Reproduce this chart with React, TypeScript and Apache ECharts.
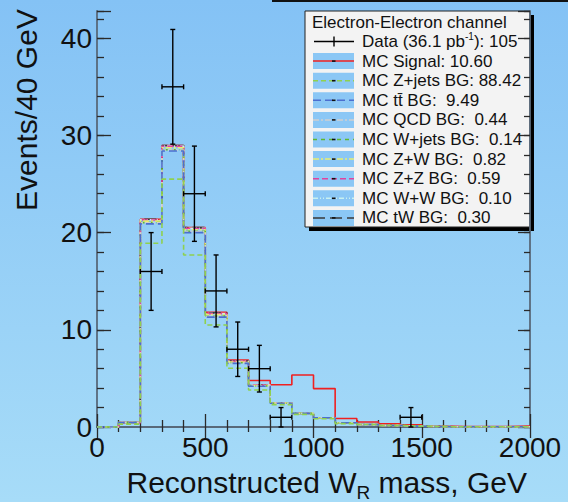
import { useEffect, useRef } from 'react';
import * as echarts from 'echarts';

// 100 GeV bins from 0 to 2000 GeV
const binEdges = [0, 100, 200, 300, 400, 500, 600, 700, 800, 900, 1000, 1100, 1200, 1300, 1400, 1500, 1600, 1700, 1800, 1900, 2000];

// Expected events per bin for each Monte Carlo process
const zJets = [0, 0.3, 18.9, 25.5, 17.7, 10.5, 6.05, 3.8, 2.3, 1.3, 0.85, 0.35, 0.25, 0.15, 0.08, 0.04, 0.02, 0.02, 0.02, 0.02];
const ttbar = [0, 0.15, 2.0, 2.9, 2.3, 0.8, 0.5, 0.4, 0.15, 0.1, 0.1, 0.08, 0.01, 0, 0, 0, 0, 0, 0, 0];
const qcd = [0, 0, 0.1, 0.1, 0.1, 0.08, 0.04, 0.02, 0, 0, 0, 0, 0, 0, 0, 0, 0, 0, 0, 0];
const wJets = [0, 0, 0.03, 0.03, 0.03, 0.03, 0.02, 0, 0, 0, 0, 0, 0, 0, 0, 0, 0, 0, 0, 0];
const zwBg = [0, 0, 0.15, 0.2, 0.17, 0.15, 0.08, 0.05, 0.02, 0, 0, 0, 0, 0, 0, 0, 0, 0, 0, 0];
const zzBg = [0, 0, 0.12, 0.14, 0.12, 0.1, 0.06, 0.04, 0.01, 0, 0, 0, 0, 0, 0, 0, 0, 0, 0, 0];
const wwBg = [0, 0, 0.02, 0.03, 0.02, 0.02, 0.01, 0, 0, 0, 0, 0, 0, 0, 0, 0, 0, 0, 0, 0];
const twBg = [0, 0, 0.05, 0.06, 0.07, 0.06, 0.03, 0.02, 0.01, 0, 0, 0, 0, 0, 0, 0, 0, 0, 0, 0];
const signal = [0, 0, 0, 0, 0, 0.05, 0.1, 0.45, 1.85, 3.95, 3.0, 0.45, 0.25, 0.17, 0.15, 0.05, 0.02, 0.02, 0.02, 0.08];

// Observed data: bin lower edge, count, error
const dataBinLow = [200, 300, 400, 500, 600, 700, 800, 1400];
const dataCounts = [16, 35, 24, 14, 8, 6, 1, 1];
const dataErrors = [4, 5.9, 4.9, 3.7, 2.8, 2.4, 1, 1];

const xTickLabels = [0, 500, 1000, 1500, 2000];
const yTickLabels = [0, 10, 20, 30, 40];

const legendTitle = 'Electron-Electron channel';
const legendLabels = [
  'MC Signal: 10.60',
  'MC Z+jets BG: 88.42',
  'MC tt\u0304 BG:  9.49',
  'MC QCD BG:  0.44',
  'MC W+jets BG:  0.14',
  'MC Z+W BG:  0.82',
  'MC Z+Z BG:  0.59',
  'MC W+W BG:  0.10',
  'MC tW BG:  0.30',
];

// stack order (bottom to top)
const stackNames = ['Z+jets', 'ttbar', 'QCD', 'W+jets', 'ZW', 'ZZ', 'WW', 'tW', 'Signal'];
const stackComponents = [zJets, ttbar, qcd, wJets, zwBg, zzBg, wwBg, twBg, signal];
const stackColors = ['#8fd14f', '#4b6fd0', '#cfcfcf', '#5fb830', '#e8ee70', '#e0449e', '#c8f0f0', '#3a3a3a', '#f02020'];
const stackDash: (number[] | 'solid')[] = [[5, 3], [8, 4], [6, 2, 2, 2], [4, 4], [6, 2, 2, 2], [6, 3], [5, 2, 1, 2, 1, 2], [12, 5], 'solid'];
// legend rows -> stack index
const legendStackIndex = [8, 0, 1, 2, 3, 4, 5, 6, 7];

const FONT = '"Liberation Sans", Arial, Helvetica, sans-serif';

export default function App() {
  const ref = useRef<HTMLDivElement>(null);

  useEffect(() => {
    if (!ref.current) return;
    const chart = echarts.init(ref.current, undefined, { renderer: 'svg' });

    const binWidth = binEdges[1] - binEdges[0];
    const nBins = binEdges.length - 1;

    // cumulative stack levels
    const cumulative: number[][] = [];
    stackComponents.forEach((comp, k) => {
      cumulative.push(comp.map((v, i) => v + (k > 0 ? cumulative[k - 1][i] : 0)));
    });

    const histSeries: any[] = [];
    // drawn from the top of the stack down, so the lower levels sit on top
    for (let k = stackComponents.length - 1; k >= 0; k--) {
      const cum = cumulative[k];
      histSeries.push({
        name: stackNames[k],
        type: 'line',
        step: 'end',
        xAxisIndex: 0,
        yAxisIndex: 0,
        showSymbol: false,
        symbol: 'none',
        silent: true,
        data: binEdges.map((e, i) => [e, cum[Math.min(i, nBins - 1)]]),
        lineStyle: { color: stackColors[k], width: 1.6, type: stackDash[k] },
      });
    }

    const dataSeries = {
      type: 'custom',
      xAxisIndex: 0,
      yAxisIndex: 0,
      z: 10,
      encode: { x: [0, 1], y: 2 },
      data: dataBinLow.map((lo, i) => [lo, lo + binWidth, dataCounts[i], dataErrors[i]]),
      renderItem: (_params: any, api: any) => {
        const lo = api.value(0);
        const hi = api.value(1);
        const y = api.value(2);
        const e = api.value(3);
        const c = (lo + hi) / 2;
        const pL = api.coord([lo, y]);
        const pR = api.coord([hi, y]);
        const pT = api.coord([c, y + e]);
        const pB = api.coord([c, Math.max(0, y - e)]);
        const cap = 2.5;
        const style = { stroke: '#000', lineWidth: 1.4 };
        const ln = (x1: number, y1: number, x2: number, y2: number) => ({
          type: 'line',
          shape: { x1, y1, x2, y2 },
          style,
        });
        return {
          type: 'group',
          children: [
            ln(pL[0], pL[1], pR[0], pR[1]),
            ln(pL[0], pL[1] - cap, pL[0], pL[1] + cap),
            ln(pR[0], pR[1] - cap, pR[0], pR[1] + cap),
            ln(pT[0], pT[1], pB[0], pB[1]),
            ln(pT[0] - cap, pT[1], pT[0] + cap, pT[1]),
            ln(pB[0] - cap, pB[1], pB[0] + cap, pB[1]),
          ],
        };
      },
    };

    const axisLine = { show: true, lineStyle: { color: '#58697a', width: 1.8 } };
    const tickStyle = { color: '#2a2a2a', width: 1.3 };
    const xMax = binEdges[binEdges.length - 1];
    const yMax = 42.8;

    const xAxisBase = {
      type: 'value',
      min: binEdges[0],
      max: xMax,
      interval: 500,
      splitLine: { show: false },
      axisLine,
      minorTick: { show: true, splitNumber: 5, length: 7, lineStyle: tickStyle },
      minorSplitLine: { show: false },
    };

    const yAxisBase = {
      type: 'value',
      min: 0,
      max: yMax,
      splitLine: { show: false },
    };

    // legend graphics
    const lx = 305;
    const ly = 11;
    const lw = 225;
    const lh = 216;
    const rowY = (i: number) => 41.5 + i * 19.6;
    const legendEls: any[] = [
      { type: 'rect', shape: { x: lx + 4, y: ly + 4, width: lw, height: lh }, style: { fill: '#000' } },
      { type: 'rect', shape: { x: lx, y: ly, width: lw, height: lh }, style: { fill: '#f3f3f3', stroke: '#222', lineWidth: 1 } },
      {
        type: 'text',
        style: {
          text: legendTitle, x: lx + 7, y: 22, fill: '#111',
          fontSize: 17, fontFamily: FONT,
          align: 'left', verticalAlign: 'middle', textAlign: 'left', textVerticalAlign: 'middle',
        },
      },
      // data entry
      { type: 'line', shape: { x1: lx + 9, y1: rowY(0), x2: lx + 49, y2: rowY(0) }, style: { stroke: '#000', lineWidth: 1.4 } },
      { type: 'line', shape: { x1: lx + 29, y1: rowY(0) - 5, x2: lx + 29, y2: rowY(0) + 5 }, style: { stroke: '#000', lineWidth: 1.4 } },
      {
        type: 'text',
        style: {
          text: '{a|Data (36.1 pb}{s|-1}{a|): 105}',
          x: lx + 57, y: rowY(0), fill: '#111',
          fontSize: 17, fontFamily: FONT,
          align: 'left', verticalAlign: 'middle', textAlign: 'left', textVerticalAlign: 'middle',
          rich: {
            a: { fontSize: 17, fontFamily: FONT, fill: '#111', color: '#111' },
            s: { fontSize: 10, fontFamily: FONT, fill: '#111', color: '#111', padding: [0, 0, 10, 0] },
          },
        },
      },
    ];
    legendLabels.forEach((label, j) => {
      const k = legendStackIndex[j];
      const y = rowY(j + 1);
      legendEls.push(
        { type: 'rect', shape: { x: lx + 8, y: y - 8, width: 41, height: 16 }, style: { fill: '#8bc7f5' } },
        {
          type: 'line',
          shape: { x1: lx + 8, y1: y, x2: lx + 49, y2: y },
          style: { stroke: stackColors[k], lineWidth: 1.5, lineDash: stackDash[k] === 'solid' ? null : stackDash[k] },
        },
        { type: 'rect', shape: { x: lx + 27, y: y - 0.8, width: 3.5, height: 1.6 }, style: { fill: '#111' } },
        {
          type: 'text',
          style: {
            text: label, x: lx + 57, y, fill: '#111',
            fontSize: 17, fontFamily: FONT,
            align: 'left', verticalAlign: 'middle', textAlign: 'left', textVerticalAlign: 'middle',
          },
        }
      );
    });

    chart.setOption({
      animation: false,
      backgroundColor: new echarts.graphic.LinearGradient(0, 0, 0, 1, [
        { offset: 0, color: '#84c2f5' },
        { offset: 1, color: '#a7dcf8' },
      ]),
      grid: { left: 97, right: 38, top: 11, bottom: 75, containLabel: false },
      xAxis: [
        {
          ...xAxisBase,
          position: 'bottom',
          axisTick: { show: true, inside: true, length: 13, lineStyle: tickStyle },
          axisLabel: {
            show: true, margin: 6, color: '#111', fontSize: 28, fontFamily: FONT,
            formatter: (v: number) => (xTickLabels.includes(v) ? String(v) : ''),
          },
        },
        {
          ...xAxisBase,
          position: 'top',
          axisTick: { show: true, inside: true, length: 11, lineStyle: tickStyle },
          minorTick: { show: true, splitNumber: 5, length: 5, lineStyle: tickStyle },
          axisLabel: { show: false },
        },
      ],
      yAxis: [
        {
          ...yAxisBase,
          position: 'left',
          interval: 2,
          axisLine,
          axisTick: { show: true, inside: true, length: 7, lineStyle: tickStyle },
          axisLabel: {
            show: true, margin: 5, color: '#111', fontSize: 28, fontFamily: FONT,
            formatter: (v: number) => (yTickLabels.includes(v) ? String(v) : ''),
          },
        },
        {
          ...yAxisBase,
          position: 'left',
          interval: 10,
          axisLine: { show: false },
          axisTick: { show: true, inside: true, length: 14, lineStyle: tickStyle },
          axisLabel: { show: false },
        },
        {
          ...yAxisBase,
          position: 'right',
          interval: 2,
          axisLine,
          axisTick: { show: true, inside: true, length: 6, lineStyle: tickStyle },
          axisLabel: { show: false },
        },
        {
          ...yAxisBase,
          position: 'right',
          interval: 10,
          axisLine: { show: false },
          axisTick: { show: true, inside: true, length: 12, lineStyle: tickStyle },
          axisLabel: { show: false },
        },
      ],
      series: [...histSeries, dataSeries],
      graphic: [
        { type: 'rect', shape: { x: 272, y: 0, width: 296, height: 2 }, style: { fill: '#111' }, z: 100 },
        {
          type: 'text',
          rotation: Math.PI / 2,
          x: 26,
          y: 110,
          style: {
            text: 'Events/40 GeV', fill: '#111', fontSize: 30, fontFamily: FONT,
            align: 'center', verticalAlign: 'middle', textAlign: 'center', textVerticalAlign: 'middle',
          },
        },
        {
          type: 'text',
          x: 527,
          y: 482,
          style: {
            text: '{a|Reconstructed W}{s|R}{a| mass, GeV}',
            fill: '#111', fontSize: 30, fontFamily: FONT,
            align: 'right', verticalAlign: 'middle', textAlign: 'right', textVerticalAlign: 'middle',
            rich: {
              a: { fontSize: 30, fontFamily: FONT, fill: '#111', color: '#111' },
              s: { fontSize: 19, fontFamily: FONT, fill: '#111', color: '#111', padding: [20, 0, 0, 0] },
            },
          },
        },
        { type: 'group', z: 50, children: legendEls },
      ],
    });

    return () => chart.dispose();
  }, []);

  return (
    <div
      ref={ref}
      style={{ position: 'absolute', left: 0, top: 0, width: 568, height: 502 }}
    />
  );
}
